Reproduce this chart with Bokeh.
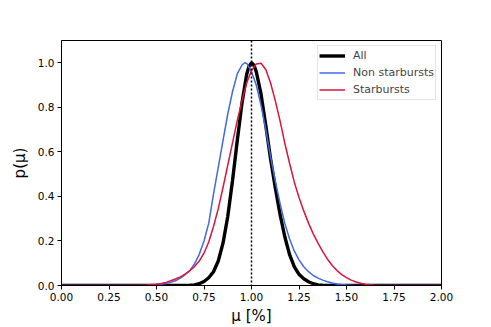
from bokeh.plotting import figure
from bokeh.models import Range1d, FixedTicker, NumeralTickFormatter, Span, Legend, LegendItem
from bokeh.embed import file_html
from bokeh.resources import INLINE

# ---- data ----
mu_all = [0.0, 0.650, 0.675, 0.700, 0.725, 0.750, 0.775, 0.800, 0.825, 0.850, 0.875,
          0.900, 0.925, 0.950, 0.975, 0.9875, 1.000, 1.0125, 1.025, 1.050, 1.075, 1.100,
          1.125, 1.150, 1.175, 1.200, 1.225, 1.250, 1.275, 1.300, 1.325, 1.350, 1.375,
          1.400, 2.0]
p_all = [0.0, 0.0, 0.001, 0.003, 0.008, 0.018, 0.035, 0.062, 0.11, 0.19, 0.31,
         0.47, 0.65, 0.82, 0.95, 0.985, 1.0, 0.99, 0.96, 0.86, 0.72, 0.57,
         0.44, 0.32, 0.22, 0.14, 0.085, 0.05, 0.03, 0.017, 0.008, 0.003, 0.001,
         0.0, 0.0]

mu_non = [0.0, 0.450, 0.475, 0.500, 0.525, 0.550, 0.575, 0.600, 0.625, 0.650, 0.675,
          0.700, 0.725, 0.750, 0.775, 0.800, 0.825, 0.850, 0.875, 0.900, 0.925, 0.950,
          0.965, 0.975, 1.000, 1.025, 1.050, 1.075, 1.100, 1.125, 1.150, 1.175, 1.200,
          1.225, 1.250, 1.275, 1.300, 1.325, 1.350, 1.375, 1.400, 1.425, 1.450, 1.475,
          1.500, 1.525, 1.550, 2.0]
p_non = [0.0, 0.0, 0.002, 0.004, 0.006, 0.009, 0.014, 0.021, 0.033, 0.048, 0.067,
         0.097, 0.14, 0.2, 0.28, 0.41, 0.53, 0.65, 0.77, 0.87, 0.95, 0.99,
         1.0, 0.997, 0.96, 0.90, 0.81, 0.70, 0.58, 0.47, 0.37, 0.28, 0.21,
         0.155, 0.115, 0.084, 0.062, 0.045, 0.033, 0.024, 0.017, 0.011, 0.007, 0.004,
         0.002, 0.001, 0.0, 0.0]

mu_sb = [0.0, 0.400, 0.425, 0.450, 0.475, 0.500, 0.525, 0.550, 0.575, 0.600, 0.625,
         0.650, 0.675, 0.700, 0.725, 0.750, 0.775, 0.800, 0.825, 0.850, 0.875, 0.900,
         0.925, 0.950, 0.975, 1.000, 1.025, 1.050, 1.075, 1.100, 1.125, 1.150, 1.175,
         1.200, 1.225, 1.250, 1.275, 1.300, 1.325, 1.350, 1.375, 1.400, 1.425, 1.450,
         1.475, 1.500, 1.525, 1.550, 1.575, 1.600, 1.625, 1.650, 1.675, 2.0]
p_sb = [0.0, 0.0, 0.001, 0.002, 0.004, 0.006, 0.009, 0.014, 0.021, 0.029, 0.039,
        0.051, 0.066, 0.085, 0.11, 0.145, 0.195, 0.265, 0.345, 0.44, 0.54, 0.64,
        0.74, 0.83, 0.91, 0.965, 0.995, 0.998, 0.97, 0.91, 0.83, 0.74, 0.64,
        0.55, 0.465, 0.395, 0.335, 0.28, 0.232, 0.19, 0.152, 0.118, 0.09, 0.067,
        0.049, 0.035, 0.024, 0.016, 0.01, 0.006, 0.003, 0.001, 0.0, 0.0]

series_labels = ["All", "Non starbursts", "Starbursts"]
x_ticks = [0.0, 0.25, 0.5, 0.75, 1.0, 1.25, 1.5, 1.75, 2.0]
y_ticks = [0.0, 0.2, 0.4, 0.6, 0.8, 1.0]
reference_mu = 1.0
x_label = "μ [%]"
y_label = "p(μ)"

FONT = "DejaVu Sans"

p = figure(width=491, height=327, output_backend="svg", toolbar_location=None,
           x_range=Range1d(0, 2), y_range=Range1d(0, 1.1),
           min_border_left=61, min_border_right=50, min_border_top=40, min_border_bottom=41)

p.xgrid.visible = False
p.ygrid.visible = False
p.outline_line_color = "black"
p.outline_line_alpha = 1.0
p.outline_line_width = 1
p.background_fill_color = "white"
p.border_fill_color = "white"

for ax in (p.xaxis[0], p.yaxis[0]):
    ax.axis_line_color = "black"
    ax.major_tick_line_color = "black"
    ax.minor_tick_line_color = None
    ax.major_tick_in = 0
    ax.major_tick_out = 4
    ax.major_label_text_font = FONT
    ax.major_label_text_font_size = "10.5px"
    ax.major_label_text_color = "black"
    ax.axis_label_text_font = FONT
    ax.axis_label_text_font_style = "normal"
    ax.axis_label_text_font_size = "15px"
    ax.axis_label_text_color = "black"

p.xaxis.ticker = FixedTicker(ticks=x_ticks)
p.yaxis.ticker = FixedTicker(ticks=y_ticks)
p.xaxis.formatter = NumeralTickFormatter(format="0.00")
p.yaxis.formatter = NumeralTickFormatter(format="0.0")
p.xaxis.axis_label = x_label
p.yaxis.axis_label = y_label
p.xaxis.major_label_standoff = 3
p.xaxis.axis_label_standoff = 3
p.yaxis.major_label_standoff = 3
p.yaxis.axis_label_standoff = 6

r_all = p.line(mu_all, p_all, line_color="black", line_width=3.4)
r_non = p.line(mu_non, p_non, line_color="royalblue", line_width=1.5)
r_sb = p.line(mu_sb, p_sb, line_color="crimson", line_width=1.5)

p.add_layout(Span(location=reference_mu, dimension="height", line_color="black",
                  line_width=1.5, line_dash="2 2"))

legend = Legend(items=[LegendItem(label=series_labels[0], renderers=[r_all]),
                       LegendItem(label=series_labels[1], renderers=[r_non]),
                       LegendItem(label=series_labels[2], renderers=[r_sb])],
                location="top_right")
legend.label_text_font = FONT
legend.label_text_font_size = "11px"
legend.label_standoff = 8
legend.glyph_width = 26
legend.glyph_height = 17
legend.label_height = 17
legend.spacing = 0
legend.padding = 1
legend.margin = 5
legend.border_line_color = "#cccccc"
legend.border_line_width = 1
legend.background_fill_alpha = 0.8
p.add_layout(legend)

open("out.html", "w").write(file_html(p, INLINE))
